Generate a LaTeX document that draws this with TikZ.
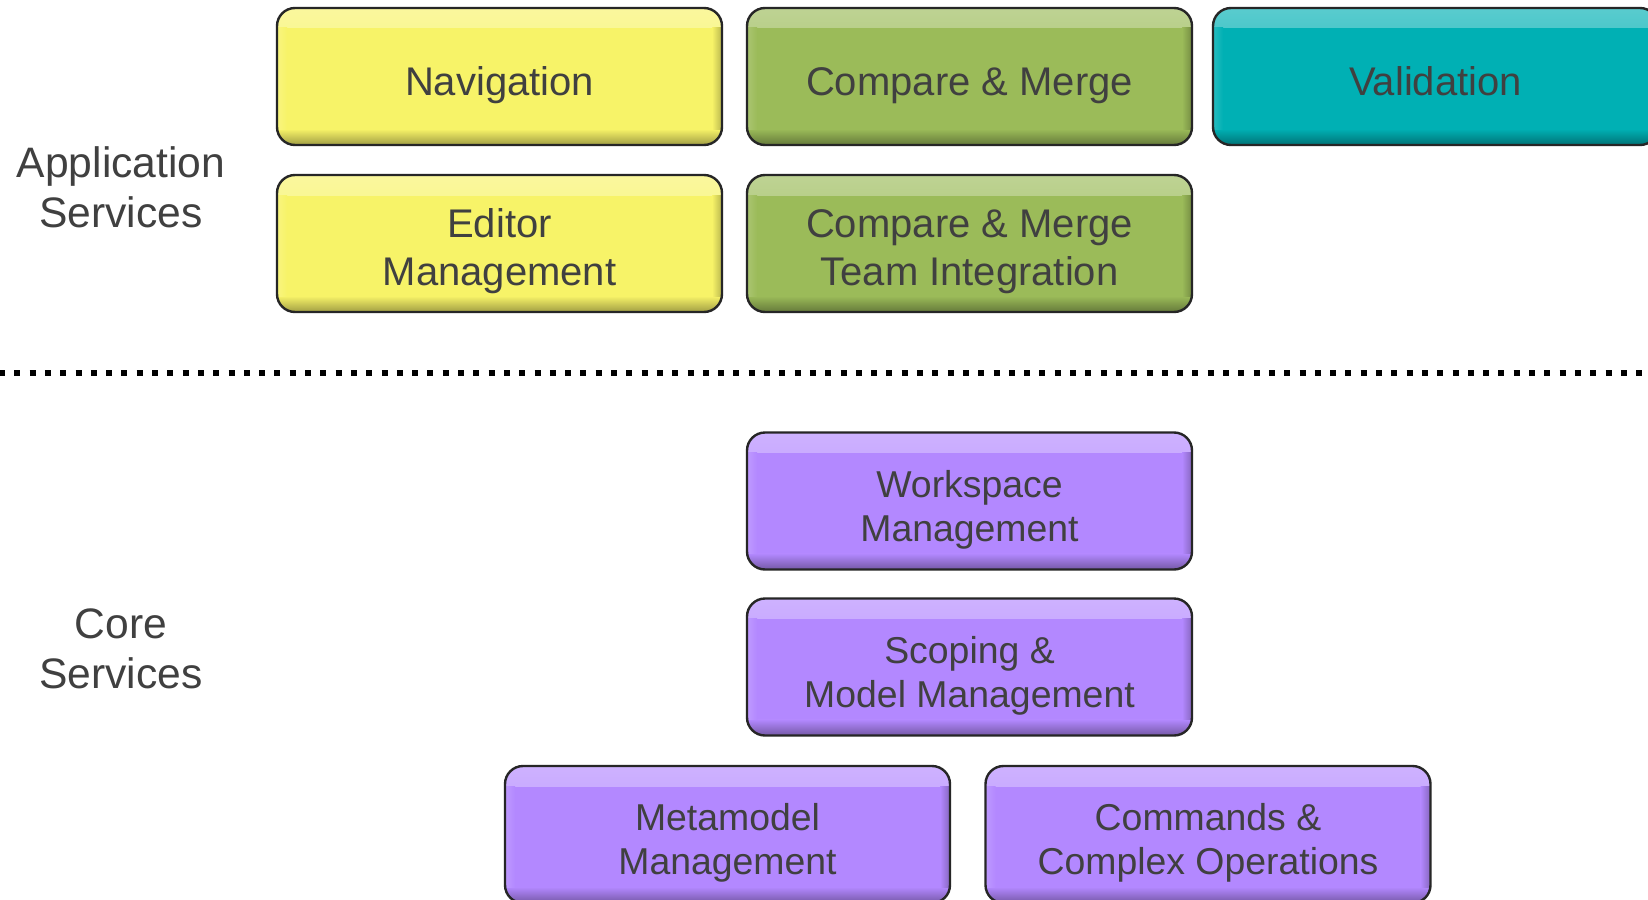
\documentclass[tikz,border=0pt]{standalone}
\usepackage{fontspec}
\setmainfont{Liberation Sans}
\definecolor{cyel}{RGB}{247,243,104}
\definecolor{cgrn}{RGB}{155,187,89}
\definecolor{ctea}{RGB}{0,176,180}
\definecolor{cpur}{RGB}{179,136,255}
\definecolor{txt}{RGB}{64,64,64}
\definecolor{edge}{RGB}{38,38,38}
\tikzset{
  svc/.style={rounded corners=18pt, draw=edge, line width=2.4pt, fill=#1,
    minimum width=445pt, minimum height=137pt, align=center, text=txt,
    inner sep=0pt,
    path picture={
      \shade[sharp corners, top color=white!35!#1, bottom color=#1]
        (path picture bounding box.north west) rectangle ([yshift=-20pt]path picture bounding box.north east);
      \shade[sharp corners, top color=#1, bottom color=black!35!#1]
        ([yshift=16pt]path picture bounding box.south west) rectangle (path picture bounding box.south east);
      \shade[sharp corners, left color=#1, right color=black!25!#1]
        ([xshift=-10pt,yshift=-20pt]path picture bounding box.north east) rectangle ([yshift=16pt]path picture bounding box.south east);
      \shade[sharp corners, right color=#1, left color=white!15!#1]
        ([xshift=10pt,yshift=-20pt]path picture bounding box.north west) rectangle ([yshift=16pt]path picture bounding box.south west);
    }},
  big/.style={font=\fontsize{40pt}{48pt}\selectfont},
  mid/.style={font=\fontsize{37.4pt}{44pt}\selectfont},
  one/.style={text height=37pt, text depth=0pt},
  twob/.style={text height=83pt, text depth=0pt},
  twom/.style={text height=80pt, text depth=0pt},
  lbl/.style={align=center, text=txt, font=\fontsize{42.6pt}{50pt}\selectfont},
  sep/.style={line width=6pt, dash pattern=on 6pt off 9.3pt, black}
}
\begin{document}
\begin{tikzpicture}[x=1pt,y=-1pt]
\useasboundingbox[fill=white] (0,0) rectangle (1648,899);
% application services
\node[svc=cyel, big, one] (nav) at (499.5,76.5) {Navigation};
\node[svc=cgrn, big, one] (cm) at (969.5,76.5) {Compare \& Merge};
\node[svc=ctea, big, one] (val) at (1435.5,76.5) {Validation};
\node[svc=cyel, big, twob] (ed) at (499.5,243.5) {Editor\\Management};
\node[svc=cgrn, big, twob] (cmt) at (969.5,243.5) {Compare \& Merge\\Team Integration};
% separator
\coordinate (sl) at (-1,373);
\coordinate (sr) at (1648,373);
\draw[sep] (sl) -- (sr);
% core services
\node[svc=cpur, mid, twom] (ws) at (969.5,501) {Workspace\\Management};
\node[svc=cpur, mid, twom] (sc) at (969.5,667) {Scoping \&\\Model Management};
\node[svc=cpur, mid, twom] (mm) at (727.5,834.5) {Metamodel\\Management};
\node[svc=cpur, mid, twom] (co) at (1208,834.5) {Commands \&\\Complex Operations};
% labels
\node[lbl] (la) at (121,187) {Application\\Services};
\node[lbl] (lc) at (121,649) {Core\\Services};
\end{tikzpicture}
\end{document}
